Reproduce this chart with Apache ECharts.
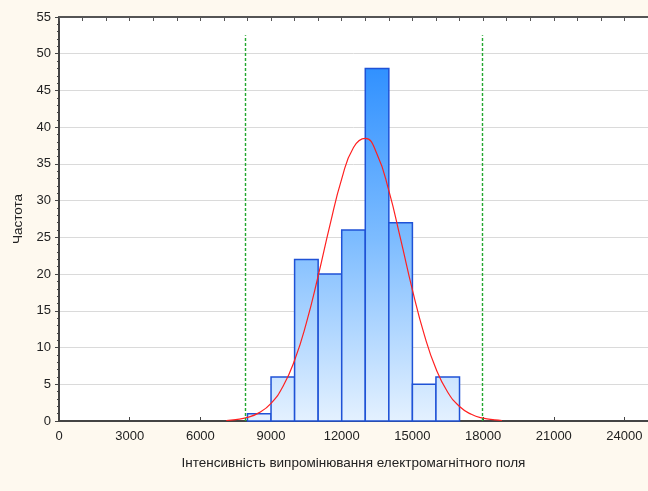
<!DOCTYPE html>
<html>
<head>
<meta charset="utf-8">
<script src="https://cdn.jsdelivr.net/npm/echarts@6/dist/echarts.min.js"></script>
<style>html,body{margin:0;padding:0;background:#FEF9EF;}#c{width:648px;height:491px;}</style>
</head>
<body>
<div id="c"></div>
<script>
// Histogram bins (lower edge, upper edge) and counts
const binStarts = [8000, 9000, 10000, 11000, 12000, 13000, 14000, 15000, 16000];
const binEnds   = [9000, 10000, 11000, 12000, 13000, 14000, 15000, 16000, 17000];
const counts    = [1, 6, 22, 20, 26, 48, 27, 5, 6];
// Fitted normal curve
const curveX = [7100, 7500, 8000, 8500, 9000, 9500, 10000, 10500, 11000, 11500, 12000, 12500, 13000, 13500, 14000, 14500, 15000, 15500, 16000, 16500, 17000, 17500, 18000, 18500, 18800];
const curveY = [0.07, 0.19, 0.49, 1.14, 2.41, 4.67, 8.26, 13.36, 19.74, 26.68, 32.97, 37.24, 38.47, 36.32, 31.36, 24.75, 17.86, 11.79, 7.10, 3.92, 1.97, 0.91, 0.38, 0.15, 0.07];
// Vertical limit lines (x position) and their top value
const limitX = [7890, 17980];
const limitTop = 52.5;
// Axis ticks
const xTickLabels = [0, 3000, 6000, 9000, 12000, 15000, 18000, 21000, 24000];
const yTickLabels = [0, 5, 10, 15, 20, 25, 30, 35, 40, 45, 50, 55];

const chart = echarts.init(document.getElementById('c'), null, {renderer: 'canvas'});
const font = 'Arial, "Liberation Sans", sans-serif';
const barData = binStarts.map((s, i) => [s, binEnds[i], counts[i]]);
const gradient = new echarts.graphic.LinearGradient(0, 17, 0, 421, [
  {offset: 0, color: '#1A84FF'},
  {offset: 0.55, color: '#7DBCFF'},
  {offset: 1, color: '#E4F1FF'}
], true);

const series = [
  {
    type: 'custom',
    xAxisIndex: 0, yAxisIndex: 0,
    data: barData,
    renderItem: function (params, api) {
      const p0 = api.coord([api.value(0), api.value(2)]);
      const p1 = api.coord([api.value(1), 0]);
      return {
        type: 'rect',
        shape: {x: p0[0], y: p0[1], width: p1[0] - p0[0], height: p1[1] - p0[1]},
        style: {fill: gradient, stroke: '#1F52D6', lineWidth: 1.5}
      };
    },
    z: 2
  },
  {
    type: 'line',
    xAxisIndex: 0, yAxisIndex: 0,
    data: curveX.map((x, i) => [x, curveY[i]]),
    smooth: true,
    showSymbol: false,
    lineStyle: {color: '#FF2020', width: 1.2},
    z: 4,
    markLine: {
      silent: true,
      symbol: ['none', 'none'],
      label: {show: false},
      lineStyle: {color: '#22A82E', width: 1.4, type: [3, 2], opacity: 1},
      emphasis: {disabled: true},
      data: limitX.map(x => [{coord: [x, 0]}, {coord: [x, limitTop]}])
    }
  }
];

chart.setOption({
  backgroundColor: '#FEF9EF',
  animation: false,
  grid: {left: 59, top: 17, right: 0, bottom: 70, show: true, backgroundColor: '#FFFFFF', borderWidth: 0},
  xAxis: [
    {
      type: 'value', position: 'bottom', min: 0, max: 25000, interval: 3000,
      name: 'Інтенсивність випромінювання електромагнітного поля',
      nameLocation: 'middle', nameGap: 35,
      nameTextStyle: {fontFamily: font, fontSize: 13.5, color: '#222'},
      axisLine: {show: true, lineStyle: {color: '#444', width: 2}},
      axisTick: {show: true, inside: true, length: 4, lineStyle: {color: '#444'}},
      axisLabel: {fontFamily: font, fontSize: 13, color: '#222', margin: 9, showMaxLabel: false,
        formatter: v => xTickLabels.indexOf(v) >= 0 ? String(v) : ''},
      splitLine: {show: false}
    },
    {
      type: 'value', position: 'top', min: 0, max: 25000, interval: 1000,
      axisLine: {show: true, lineStyle: {color: '#555', width: 2}},
      axisTick: {show: true, inside: true, length: 4, lineStyle: {color: '#555'}},
      axisLabel: {show: false},
      splitLine: {show: false}
    }
  ],
  yAxis: [
    {
      type: 'value', min: 0, max: 55, interval: 5,
      name: 'Частота', nameLocation: 'middle', nameGap: 30,
      nameTextStyle: {fontFamily: font, fontSize: 13.5, color: '#222'},
      axisLine: {show: true, lineStyle: {color: '#444', width: 2}},
      axisTick: {show: true, length: 4, lineStyle: {color: '#444'}},
      minorTick: {show: true, splitNumber: 5, length: 2, lineStyle: {color: '#444'}},
      axisLabel: {fontFamily: font, fontSize: 13, color: '#222', margin: 8,
        formatter: v => yTickLabels.indexOf(v) >= 0 ? String(v) : ''},
      splitLine: {show: true, lineStyle: {color: '#DADADA', width: 1}}
    }
  ],
  series: series
});
</script>
</body>
</html>
